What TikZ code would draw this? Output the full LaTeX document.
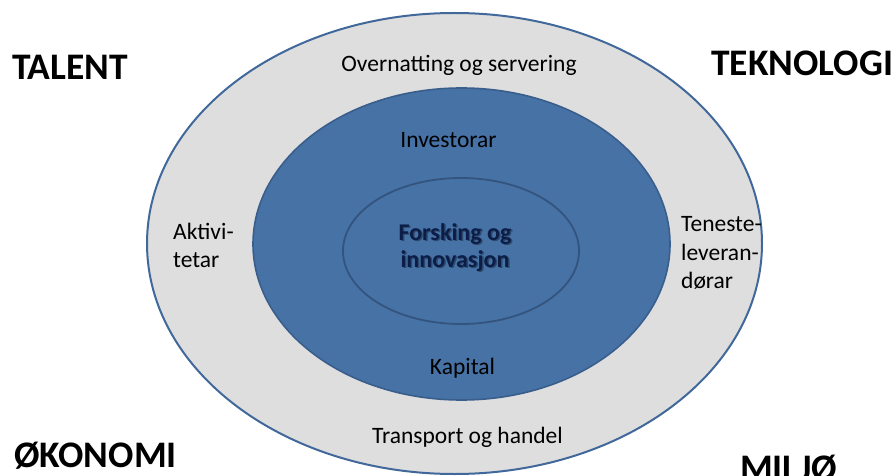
\documentclass[tikz,border=0pt]{standalone}
\usepackage{fontspec}
\setmainfont{Carlito}
\definecolor{ringgray}{RGB}{222,222,222}
\definecolor{ringline}{RGB}{65,104,155}
\definecolor{corefill}{RGB}{70,114,166}
\definecolor{coreline}{RGB}{58,94,140}
\definecolor{innerline}{RGB}{52,84,126}
\definecolor{navytext}{RGB}{12,30,72}
\begin{document}
\begin{tikzpicture}[x=1pt,y=-1pt,
  lbl/.style={inner sep=0pt,anchor=base,font=\fontsize{23.5}{28}\selectfont,text=black},
  lblw/.style={inner sep=0pt,anchor=base west,font=\fontsize{23.5}{28}\selectfont,text=black},
  big/.style={inner sep=0pt,anchor=base west,font=\bfseries\fontsize{37.5}{42}\selectfont,text=black},
  core/.style={inner sep=0pt,anchor=base,font=\bfseries\fontsize{24}{28}\selectfont,text=navytext},
  coreshadow/.style={inner sep=0pt,anchor=base,font=\bfseries\fontsize{24}{28}\selectfont,text=black,opacity=0.35}]
\useasboundingbox (0,0) rectangle (894,476);
% rings
\draw[fill=ringgray,draw=ringline,line width=2pt] (454.5,243.5) ellipse [x radius=307.5,y radius=230.5];
\draw[fill=corefill,draw=coreline,line width=1.6pt] (461.5,244) ellipse [x radius=208.5,y radius=156];
\draw[draw=innerline,line width=1.8pt] (461,251) ellipse [x radius=118,y radius=73];
% outer ring labels
\node[lbl] (overnatting) at (459,72) {Overnatting og servering};
\node[lbl] (transport) at (467.5,443) {Transport og handel};
\node[lblw] (aktivi1) at (173,239) {Aktivi-};
\node[lblw] (aktivi2) at (173,267) {tetar};
\node[lblw] (teneste1) at (681,231) {Teneste-};
\node[lblw] (teneste2) at (681,260) {leveran-};
\node[lblw] (teneste3) at (681,288) {dørar};
% core labels
\node[lbl] (investorar) at (448.5,147) {Investorar};
\node[lbl] (kapital) at (462.5,374) {Kapital};
\node[coreshadow] (forsking1s) at (456.5,241.5) {Forsking og};
\node[coreshadow] (forsking2s) at (456.5,268.5) {innovasjon};
\node[core] (forsking1) at (455,240) {Forsking og};
\node[core] (forsking2) at (455,267) {innovasjon};
% corner labels
\node[big] (talent) at (12,80) {TALENT};
\node[big] (teknologi) at (711,76) {TEKNOLOGI};
\node[big] (okonomi) at (14,467) {ØKONOMI};
\node[big] (miljo) at (740,480) {MILJØ};
\end{tikzpicture}
\end{document}
